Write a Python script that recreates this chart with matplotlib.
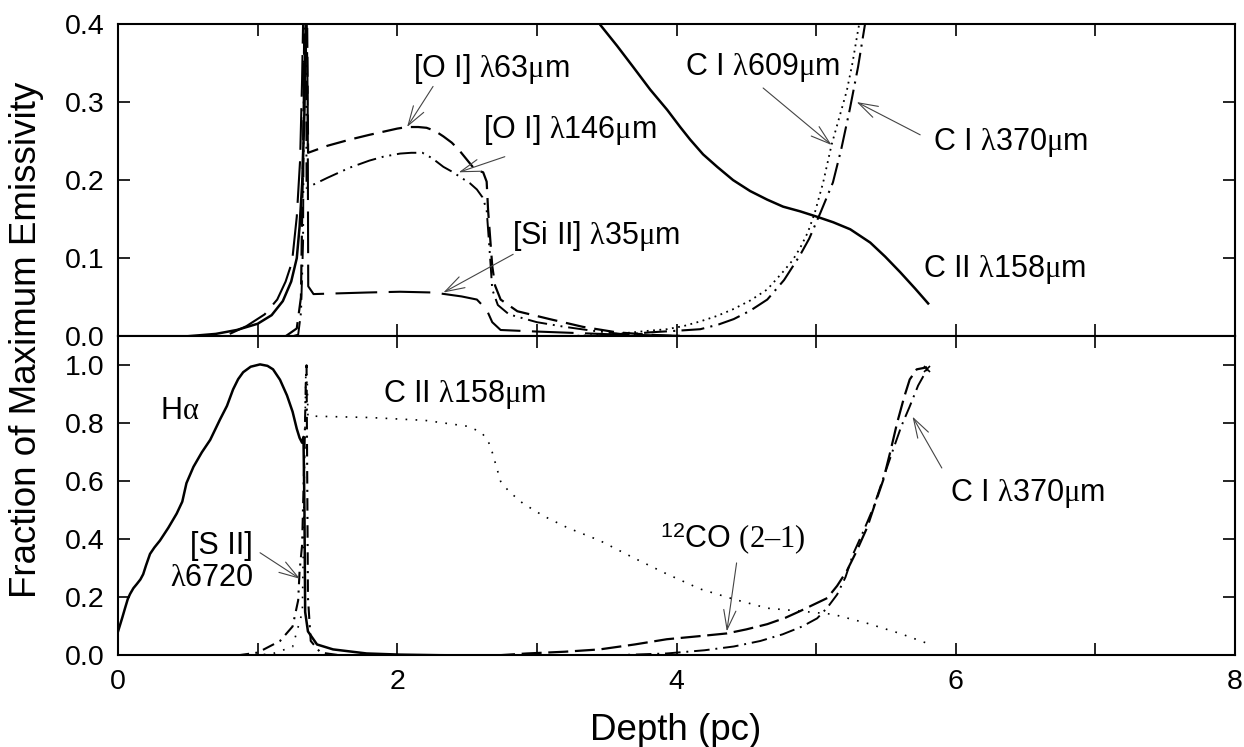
import matplotlib
matplotlib.use("Agg")
import matplotlib.pyplot as plt
from matplotlib.ticker import FormatStrFormatter

plt.rcParams["font.family"] = ["Liberation Sans", "DejaVu Sans"]
plt.rcParams["mathtext.fontset"] = "custom"
plt.rcParams["mathtext.rm"] = "Liberation Serif"
plt.rcParams["mathtext.it"] = "Liberation Serif:italic"
plt.rcParams["mathtext.sf"] = "Liberation Sans"

# ---- top panel data (depth in pc, fraction of max emissivity) ----
cii_top_x = [0.50, 0.70, 0.85, 1.00, 1.10, 1.18, 1.24, 1.28, 1.30, 1.32, 1.335, 1.345,
             1.36, 2.0, 3.0, 3.453, 3.574, 3.689, 3.811, 3.933, 4.026, 4.097, 4.19,
             4.291, 4.405, 4.527, 4.649, 4.763, 4.885, 5.007, 5.122, 5.244, 5.387,
             5.494, 5.602, 5.709, 5.802]
cii_top_y = [0.0, 0.003, 0.008, 0.016, 0.027, 0.045, 0.07, 0.10, 0.14, 0.20, 0.29, 0.42,
             0.8, 0.9, 0.6, 0.399, 0.372, 0.345, 0.316, 0.290, 0.268, 0.252, 0.233,
             0.217, 0.200, 0.186, 0.175, 0.166, 0.160, 0.153, 0.146, 0.137, 0.120,
             0.102, 0.082, 0.061, 0.042]

siii_x = [0.80, 0.92, 1.05, 1.14, 1.20, 1.246, 1.28, 1.304, 1.318, 1.33, 1.345, 1.358,
          1.362, 1.40, 1.78, 2.02, 2.26, 2.46, 2.57, 2.64, 2.68, 2.74, 3.0, 3.3, 3.6,
          3.9, 4.2]
siii_y = [0.003, 0.013, 0.028, 0.047, 0.07, 0.095, 0.153, 0.226, 0.328, 0.45, 0.5, 0.3,
          0.064, 0.054, 0.056, 0.057, 0.056, 0.051, 0.047, 0.034, 0.018, 0.008, 0.006,
          0.004, 0.002, 0.001, 0.0]

oi63_x = [1.20, 1.28, 1.31, 1.33, 1.34, 1.35, 1.361, 1.5, 1.662, 1.8, 1.90, 2.0, 2.07,
          2.15, 2.21, 2.27, 2.33, 2.39, 2.44, 2.49, 2.54, 2.58, 2.615, 2.64, 2.65, 2.68,
          2.70, 2.74, 2.86, 3.09, 3.33, 3.57, 3.8, 4.0]
oi63_y = [0.0, 0.01, 0.05, 0.3, 0.6, 0.5, 0.235, 0.244, 0.252, 0.258, 0.262, 0.266,
          0.268, 0.268, 0.267, 0.263, 0.256, 0.248, 0.239, 0.228, 0.217, 0.212, 0.21,
          0.198, 0.162, 0.09, 0.065, 0.047, 0.032, 0.022, 0.012, 0.005, 0.002, 0.0]

oi146_x = [1.25, 1.29, 1.31, 1.325, 1.335, 1.345, 1.35, 1.5, 1.66, 1.8, 1.9, 2.02, 2.10,
           2.18, 2.25, 2.33, 2.40, 2.45, 2.52, 2.57, 2.61, 2.64, 2.665, 2.68, 2.72,
           2.80, 3.0, 3.2, 3.4, 3.6, 3.8]
oi146_y = [0.0, 0.002, 0.03, 0.12, 0.5, 0.45, 0.19, 0.203, 0.216, 0.225, 0.23, 0.234,
           0.235, 0.235, 0.228, 0.217, 0.21, 0.204, 0.196, 0.188, 0.178, 0.162, 0.10,
           0.06, 0.04, 0.028, 0.018, 0.012, 0.007, 0.003, 0.0]

ci609_x = [3.2, 3.5, 3.69, 3.8, 3.93, 4.05, 4.17, 4.29, 4.41, 4.53, 4.65, 4.76, 4.83,
           4.885, 4.94, 4.99, 5.05, 5.11, 5.17, 5.22, 5.26, 5.30, 5.34]
ci609_y = [0.0, 0.002, 0.005, 0.007, 0.009, 0.013, 0.019, 0.026, 0.035, 0.046, 0.060,
           0.082, 0.097, 0.113, 0.133, 0.158, 0.197, 0.245, 0.283, 0.315, 0.35, 0.392,
           0.43]

ci370_top_x = [3.5, 3.81, 4.0, 4.17, 4.3, 4.41, 4.53, 4.65, 4.77, 4.885, 4.95, 5.03,
               5.12, 5.18, 5.24, 5.30, 5.35, 5.40]
ci370_top_y = [0.0, 0.005, 0.007, 0.009, 0.015, 0.022, 0.033, 0.047, 0.072, 0.104,
               0.125, 0.158, 0.197, 0.24, 0.29, 0.345, 0.40, 0.46]

# ---- bottom panel data ----
halpha_x = [0.0, 0.03, 0.05, 0.07, 0.086, 0.11, 0.134, 0.16, 0.18, 0.20, 0.229, 0.26,
            0.30, 0.36, 0.42, 0.46, 0.49, 0.54, 0.60, 0.66, 0.73, 0.78, 0.824, 0.86,
            0.896, 0.95, 1.017, 1.07, 1.11, 1.16, 1.21, 1.25, 1.28, 1.30, 1.318, 1.328,
            1.335, 1.34, 1.36, 1.425, 1.54, 1.78, 2.02, 2.3, 2.6]
halpha_y = [0.083, 0.13, 0.163, 0.195, 0.212, 0.232, 0.246, 0.262, 0.28, 0.31, 0.35,
            0.372, 0.396, 0.44, 0.489, 0.53, 0.594, 0.65, 0.70, 0.743, 0.813, 0.86,
            0.917, 0.952, 0.976, 0.995, 1.003, 0.998, 0.986, 0.95, 0.896, 0.84, 0.781,
            0.75, 0.733, 0.753, 0.5, 0.15, 0.083, 0.038, 0.021, 0.007, 0.003, 0.001, 0.0]

sii_x = [0.85, 1.0, 1.16, 1.25, 1.29, 1.30, 1.318, 1.335, 1.345, 1.35, 1.355, 1.36, 1.38,
         1.45, 1.6]
sii_y = [0.0, 0.01, 0.05, 0.10, 0.19, 0.29, 0.38, 0.7, 0.95, 1.0, 0.6, 0.2, 0.05, 0.01, 0.0]

cii_bot_x = [0.9, 1.1, 1.25, 1.32, 1.345, 1.355, 1.36, 1.8, 2.2, 2.5, 2.6, 2.65, 2.68,
             2.71, 2.74, 2.8, 2.9, 3.05, 3.22, 3.45, 3.69, 3.93, 4.17, 4.41, 4.65,
             4.885, 5.12, 5.365, 5.6, 5.795]
cii_bot_y = [0.0, 0.005, 0.03, 0.15, 0.98, 0.95, 0.825, 0.82, 0.81, 0.79, 0.77, 0.74,
             0.70, 0.65, 0.60, 0.565, 0.524, 0.48, 0.44, 0.396, 0.337, 0.281, 0.229,
             0.194, 0.163, 0.153, 0.142, 0.111, 0.076, 0.042]

co21_x = [2.7, 2.93, 3.2, 3.45, 3.7, 3.93, 4.15, 4.36, 4.5, 4.65, 4.78, 4.885, 4.98,
          5.08, 5.15, 5.22, 5.29, 5.365, 5.42, 5.48, 5.53, 5.58, 5.63, 5.67, 5.72, 5.795]
co21_y = [0.0, 0.007, 0.013, 0.021, 0.038, 0.056, 0.066, 0.076, 0.09, 0.108, 0.13,
          0.153, 0.175, 0.198, 0.24, 0.292, 0.36, 0.441, 0.52, 0.604, 0.70, 0.802,
          0.89, 0.951, 0.986, 0.993]

ci370_bot_x = [3.5, 3.93, 4.2, 4.41, 4.6, 4.76, 4.9, 5.007, 5.08, 5.15, 5.21, 5.265,
               5.34, 5.41, 5.48, 5.55, 5.61, 5.67, 5.73, 5.795]
ci370_bot_y = [0.0, 0.007, 0.018, 0.031, 0.05, 0.073, 0.10, 0.128, 0.165, 0.21, 0.27,
               0.35, 0.43, 0.51, 0.61, 0.708, 0.79, 0.858, 0.93, 0.986]

LAM = r"$\mathrm{\lambda}$"
MU = r"$\mathrm{\mu}$"

fig = plt.figure(figsize=(12.44, 7.47), dpi=100)
gs = fig.add_gridspec(2, 1, height_ratios=[312.5, 319.5], hspace=0,
                      left=0.0949, right=0.9928, top=0.9679, bottom=0.1225)
ax1 = fig.add_subplot(gs[0])
ax2 = fig.add_subplot(gs[1], sharex=ax1)

k = "black"
ax1.plot(cii_top_x, cii_top_y, color=k, lw=1.8)
ax1.plot(siii_x, siii_y, color=k, lw=1.5, ls=(0, (20, 5.5)))
ax1.plot(oi63_x, oi63_y, color=k, lw=1.6, ls=(0, (9, 4)))
ax1.plot(oi146_x, oi146_y, color=k, lw=1.4, ls=(0, (10, 3, 1, 3, 1, 3)))
ax1.plot(ci609_x, ci609_y, color=k, lw=1.3, ls=(0, (1, 2.5)))
ax1.plot(ci370_top_x, ci370_top_y, color=k, lw=1.5, ls=(0, (11, 3, 1, 3)))

ax2.plot(halpha_x, halpha_y, color=k, lw=1.8)
ax2.plot(sii_x, sii_y, color=k, lw=1.5, ls=(0, (6, 3, 1, 3)))
ax2.plot(cii_bot_x, cii_bot_y, color=k, lw=1.2, ls=(0, (1, 5)))
ax2.plot(co21_x, co21_y, color=k, lw=1.6, ls=(0, (9, 3)))
ax2.plot(ci370_bot_x, ci370_bot_y, color=k, lw=1.4, ls=(0, (8, 3, 1, 3)))
ax2.plot(ci370_bot_x[-1], ci370_bot_y[-1], "kx", ms=5, mew=1.2)

for ax in (ax1, ax2):
    ax.set_xlim(0, 8)
    ax.set_xticks([0, 2, 4, 6, 8])
    ax.set_xticks([1, 3, 5, 7], minor=True)
    ax.tick_params(which="both", direction="in", top=True, right=True,
                   length=8.5, width=1.2, labelsize=20.5, pad=10)
    for s in ax.spines.values():
        s.set_linewidth(1.5)
    ax.yaxis.set_major_formatter(FormatStrFormatter("%.1f"))

ax1.set_ylim(0, 0.4)
ax1.set_yticks([0.0, 0.1, 0.2, 0.3, 0.4])
ax1.tick_params(labelbottom=False)
ax2.set_ylim(0, 1.1)
ax2.set_yticks([0.0, 0.2, 0.4, 0.6, 0.8, 1.0])

fs = 22
arrow = dict(arrowstyle="->, head_length=0.7, head_width=0.22", color="#444444",
             lw=0.8, shrinkA=0, shrinkB=0, mutation_scale=20)

# top panel labels
ax1.text(2.113, 0.332, "[O I] " + LAM + "63" + MU + "m", fontsize=fs)
ax1.annotate("", xy=(2.07, 0.268), xytext=(2.256, 0.32), arrowprops=arrow)
ax1.text(2.615, 0.254, "[O I] " + LAM + "146" + MU + "m", fontsize=fs)
ax1.annotate("", xy=(2.44, 0.21), xytext=(2.77, 0.23), arrowprops=arrow)
ax1.text(2.82, 0.1176, "[Si II] " + LAM + "35" + MU + "m", fontsize=fs)
ax1.annotate("", xy=(2.33, 0.056), xytext=(2.83, 0.105), arrowprops=arrow)
ax1.text(4.06, 0.335, "C I " + LAM + "609" + MU + "m", fontsize=fs)
ax1.annotate("", xy=(5.11, 0.245), xytext=(4.62, 0.318), arrowprops=arrow)
ax1.text(5.84, 0.239, "C I " + LAM + "370" + MU + "m", fontsize=fs)
ax1.annotate("", xy=(5.29, 0.30), xytext=(5.745, 0.258), arrowprops=arrow)
ax1.text(5.765, 0.0754, "C II " + LAM + "158" + MU + "m", fontsize=fs)

# bottom panel labels
ax2.text(0.30, 0.816, r"H$\mathrm{\alpha}$", fontsize=fs)
ax2.text(1.90, 0.872, "C II " + LAM + "158" + MU + "m", fontsize=fs)
ax2.text(0.967, 0.351, "[S II]", fontsize=fs, ha="right")
ax2.text(0.967, 0.24, LAM + "6720", fontsize=fs, ha="right")
ax2.annotate("", xy=(1.304, 0.264), xytext=(1.017, 0.354), arrowprops=arrow)
ax2.text(3.88, 0.368, r"$^{\mathsf{12}}$CO $\mathrm{(2–1)}$", fontsize=fs)
ax2.annotate("", xy=(4.36, 0.083), xytext=(4.43, 0.319), arrowprops=arrow)
ax2.text(5.96, 0.531, "C I " + LAM + "370" + MU + "m", fontsize=fs)
ax2.annotate("", xy=(5.69, 0.823), xytext=(5.90, 0.646), arrowprops=arrow)

fig.text(0.5434, 0.0094, "Depth (pc)", fontsize=26.5, ha="center", va="baseline")
fig.text(0.021, 0.545, "Fraction of Maximum Emissivity", fontsize=26.5,
         rotation=90, ha="center", va="center")

fig.savefig("out.png", dpi=100)
